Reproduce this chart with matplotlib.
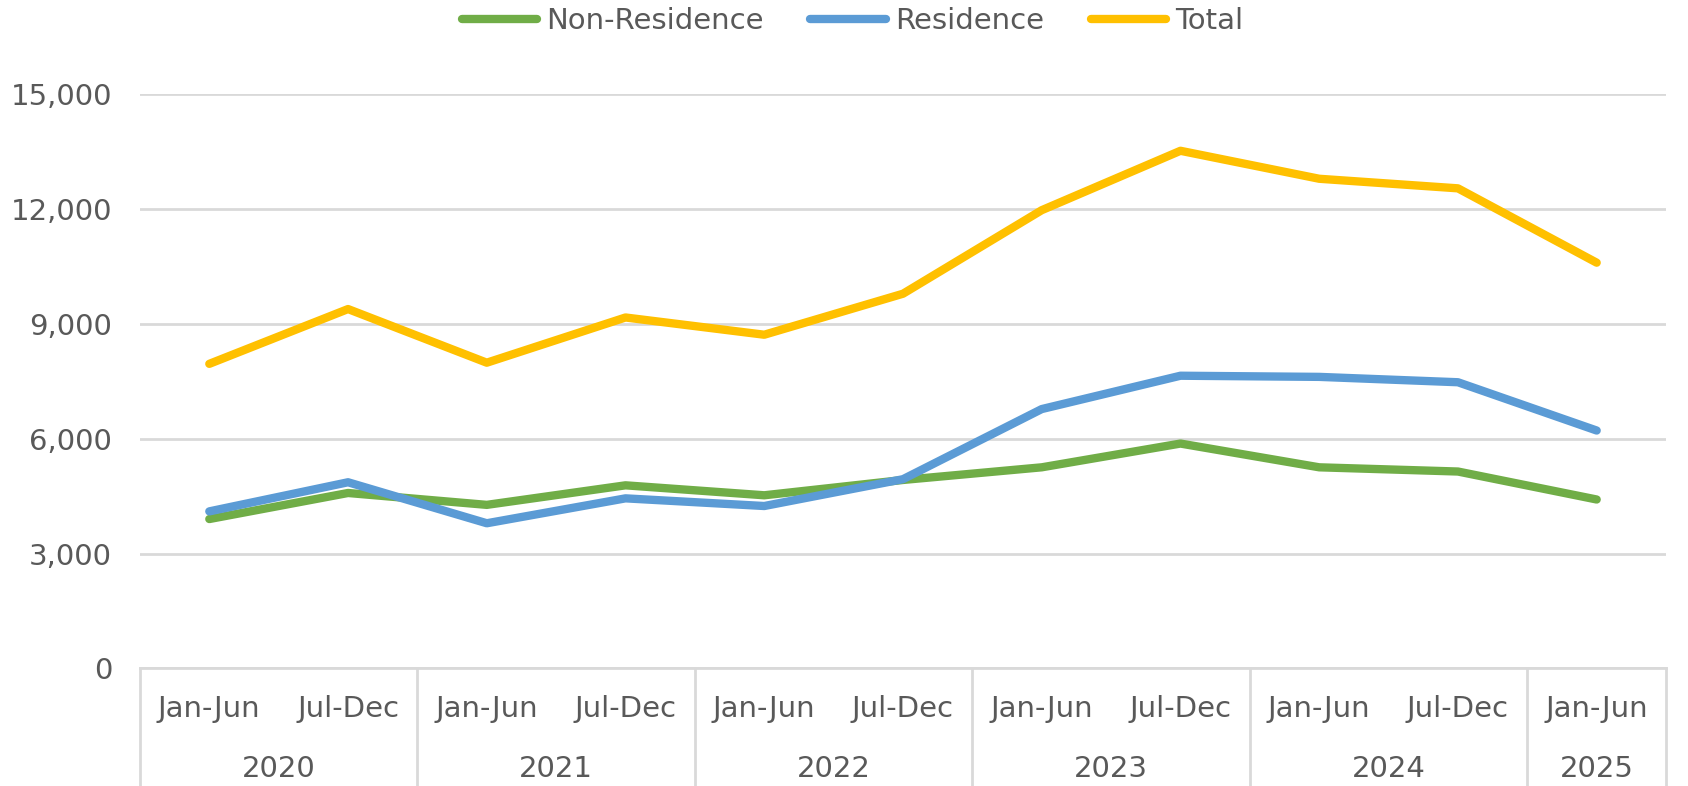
import numpy as np
import matplotlib.pyplot as plt
import matplotlib.transforms as mtransforms

plt.rcParams['font.family'] = ['DejaVu Sans']

# half-year periods 2020 H1 .. 2025 H1
periods = ['Jan-Jun', 'Jul-Dec'] * 5 + ['Jan-Jun']
years = ['2020', '2021', '2022', '2023', '2024', '2025']
non_residence = [3900, 4580, 4270, 4780, 4520, 4920, 5250, 5870, 5250, 5140, 4410]
residence = [4100, 4860, 3790, 4440, 4240, 4940, 6770, 7640, 7610, 7470, 6210]
total = [7950, 9380, 7980, 9160, 8710, 9780, 11960, 13510, 12780, 12530, 10590]

txt = '#595959'
grid = '#D9D9D9'
fs = 21

fig = plt.figure(figsize=(16.88, 7.86), dpi=100)
ax = fig.add_axes([0.0829, 0.1495, 0.9041, 0.7313])

x = np.arange(len(periods))
ax.plot(x, non_residence, color='#70AD47', lw=6, solid_capstyle='round', solid_joinstyle='round', label='Non-Residence')
ax.plot(x, residence, color='#5B9BD5', lw=6, solid_capstyle='round', solid_joinstyle='round', label='Residence')
ax.plot(x, total, color='#FFC000', lw=6, solid_capstyle='round', solid_joinstyle='round', label='Total')

ax.set_xlim(-0.5, len(periods) - 0.5)
ax.set_ylim(0, 15000)
ax.set_yticks(range(0, 15001, 3000))
ax.set_yticklabels([f'{v:,}' for v in range(0, 15001, 3000)])
ax.yaxis.grid(True, color=grid, lw=2)
ax.set_axisbelow(True)
for s in ['top', 'right', 'left']:
    ax.spines[s].set_visible(False)
ax.spines['bottom'].set_color(grid)
ax.spines['bottom'].set_linewidth(2)
ax.tick_params(axis='y', length=0, labelsize=fs, labelcolor=txt, pad=20)
ax.set_xticks([])

# two-level category axis
tr = mtransforms.blended_transform_factory(ax.transData, ax.transAxes)
for i, p in enumerate(periods):
    ax.text(i, -0.071, p, transform=tr, ha='center', va='center', fontsize=fs, color=txt)
bounds = [-0.5, 1.5, 3.5, 5.5, 7.5, 9.5, 10.5]
for j, y in enumerate(years):
    c = (bounds[j] + bounds[j + 1]) / 2
    ax.text(c, -0.175, y, transform=tr, ha='center', va='center', fontsize=fs, color=txt)
for b in bounds:
    ax.plot([b, b], [0, -0.21], transform=tr, color=grid, lw=2, clip_on=False)

h, l = ax.get_legend_handles_labels()
leg = fig.legend(h, l, loc='center', bbox_to_anchor=(0.505, 0.973), ncol=3, frameon=False,
                 fontsize=fs, handlelength=2.6, handletextpad=0.3, columnspacing=1.6)
for t in leg.get_texts():
    t.set_color(txt)

fig.savefig('out.png', dpi=100)
